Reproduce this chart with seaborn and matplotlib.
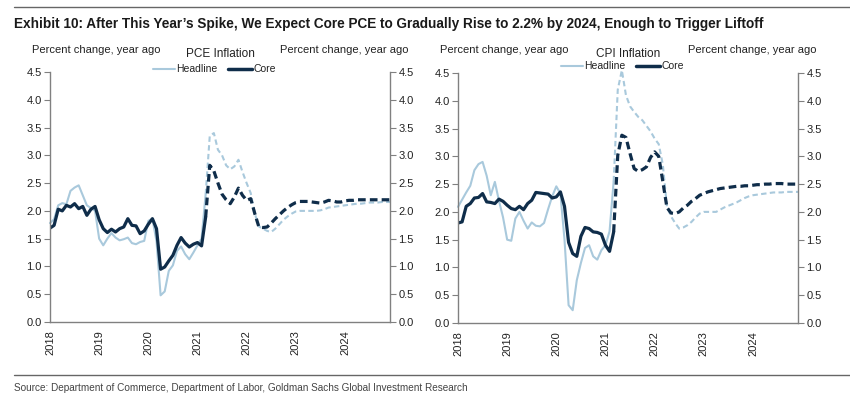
import numpy as np
import pandas as pd
import matplotlib
matplotlib.use("Agg")
import matplotlib.pyplot as plt
import matplotlib.font_manager as fm
import seaborn as sns

# ---------------- data (monthly, Jan 2018 .. Dec 2024) ----------------
years = ["2018", "2019", "2020", "2021", "2022", "2023", "2024"]
n_actual = 39  # Jan 2018 .. Mar 2021 are actual, the rest forecast

pce_core = [
    1.69, 1.74, 2.03, 2.00, 2.10, 2.07, 2.13, 2.04, 2.08, 1.92, 2.03, 2.08,
    1.84, 1.68, 1.61, 1.67, 1.62, 1.68, 1.71, 1.86, 1.74, 1.73, 1.59, 1.64,
    1.76, 1.86, 1.68, 0.95, 0.99, 1.10, 1.20, 1.38, 1.52, 1.42, 1.35, 1.40,
    1.43, 1.37, 1.89, 2.82, 2.72, 2.50, 2.30, 2.20, 2.13, 2.25, 2.41, 2.28,
    2.19, 2.22, 1.95, 1.71, 1.70, 1.71, 1.78, 1.86, 1.93, 2.00, 2.06, 2.11,
    2.15, 2.17, 2.17, 2.17, 2.16, 2.15, 2.14, 2.16, 2.19, 2.18, 2.16, 2.16,
    2.18, 2.19, 2.19, 2.20, 2.20, 2.20, 2.20, 2.20, 2.20, 2.20, 2.20, 2.20,
]
pce_headline = [
    1.78, 1.85, 2.10, 2.14, 2.12, 2.36, 2.42, 2.46, 2.28, 2.10, 2.05, 2.00,
    1.50, 1.38, 1.50, 1.60, 1.52, 1.47, 1.49, 1.52, 1.42, 1.40, 1.44, 1.46,
    1.82, 1.86, 1.45, 0.48, 0.55, 0.92, 1.02, 1.28, 1.36, 1.22, 1.13, 1.25,
    1.38, 1.50, 2.30, 3.35, 3.40, 3.10, 3.00, 2.82, 2.75, 2.80, 2.92, 2.70,
    2.50, 2.32, 1.95, 1.72, 1.68, 1.64, 1.62, 1.68, 1.76, 1.84, 1.90, 1.95,
    1.99, 2.00, 2.00, 2.00, 2.00, 2.00, 2.01, 2.03, 2.06, 2.07, 2.08, 2.09,
    2.10, 2.11, 2.12, 2.13, 2.13, 2.14, 2.15, 2.15, 2.15, 2.16, 2.16, 2.16,
]
cpi_core = [
    1.80, 1.82, 2.10, 2.15, 2.25, 2.26, 2.33, 2.18, 2.17, 2.15, 2.23, 2.19,
    2.12, 2.06, 2.04, 2.10, 2.04, 2.15, 2.21, 2.35, 2.34, 2.33, 2.32, 2.25,
    2.27, 2.36, 2.10, 1.45, 1.25, 1.20, 1.56, 1.72, 1.70, 1.64, 1.63, 1.60,
    1.40, 1.29, 1.64, 3.02, 3.38, 3.34, 3.05, 2.78, 2.73, 2.76, 2.81, 2.98,
    3.08, 3.00, 2.55, 2.08, 1.98, 1.97, 2.00, 2.07, 2.12, 2.19, 2.24, 2.30,
    2.33, 2.36, 2.38, 2.40, 2.42, 2.43, 2.44, 2.45, 2.46, 2.46, 2.47, 2.47,
    2.48, 2.49, 2.49, 2.50, 2.50, 2.51, 2.51, 2.51, 2.50, 2.50, 2.50, 2.50,
]
cpi_headline = [
    2.09, 2.22, 2.35, 2.47, 2.75, 2.86, 2.90, 2.65, 2.30, 2.54, 2.20, 1.90,
    1.50, 1.48, 1.88, 2.00, 1.84, 1.70, 1.81, 1.75, 1.74, 1.80, 2.05, 2.28,
    2.46, 2.33, 1.50, 0.32, 0.23, 0.77, 1.08, 1.35, 1.40, 1.20, 1.14, 1.31,
    1.40, 1.65, 2.55, 4.20, 4.55, 4.10, 3.90, 3.80, 3.71, 3.65, 3.55, 3.45,
    3.32, 3.22, 2.85, 2.10, 1.92, 1.80, 1.70, 1.72, 1.76, 1.82, 1.90, 1.97,
    2.00, 2.00, 2.00, 2.00, 2.04, 2.08, 2.11, 2.14, 2.17, 2.21, 2.25, 2.28,
    2.30, 2.31, 2.32, 2.33, 2.34, 2.35, 2.35, 2.35, 2.36, 2.36, 2.36, 2.36,
]

panel_titles = ["PCE Inflation", "CPI Inflation"]
axis_label = "Percent change, year ago"
title = ("Exhibit 10: After This Year\u2019s Spike, We Expect Core PCE to Gradually "
         "Rise to 2.2% by 2024, Enough to Trigger Liftoff")
source = ("Source: Department of Commerce, Department of Labor, Goldman Sachs "
          "Global Investment Research")

# ---------------- style ----------------
sns.set_style("white")
plt.rcParams["font.family"] = ["Liberation Sans", "DejaVu Sans"]

_fonts = fm.fontManager.ttflist
if any(f.name == "Liberation Sans Narrow" for f in _fonts):
    narrow_kw = dict(family=["Liberation Sans Narrow", "DejaVu Sans"])
    title_w, src_w = 690, 425
else:
    narrow_kw = dict(family=["Liberation Sans", "DejaVu Sans"])
    title_w, src_w = 755, 455

CORE = "#0f2d4a"
HEAD = "#a9c9dc"
SPINE = "#808080"
TXT = "#222222"

W, H = 850, 398
fig = plt.figure(figsize=(W / 100, H / 100), dpi=100)

def px_axes(x0, y0, x1, y1):
    return fig.add_axes([x0 / W, 1 - y1 / H, (x1 - x0) / W, (y1 - y0) / H])

axL = px_axes(50, 72, 390, 322)
axR = px_axes(458, 73, 798, 323)

months = np.arange(len(pce_core))

def draw(ax, head, core, ptitle, cx, ly):
    df = pd.DataFrame({"m": months, "head": head, "core": core})
    act = df.iloc[:n_actual]
    fc = df.iloc[n_actual - 1:]
    sns.lineplot(data=act, x="m", y="head", ax=ax, color=HEAD, lw=1.5,
                 clip_on=False)
    sns.lineplot(data=fc, x="m", y="head", ax=ax, color=HEAD, lw=1.5,
                 clip_on=False).lines[-1].set_dashes((2.6, 1.6))
    sns.lineplot(data=act, x="m", y="core", ax=ax, color=CORE, lw=2.3)
    sns.lineplot(data=fc, x="m", y="core", ax=ax, color=CORE, lw=2.3
                 ).lines[-1].set_dashes((2.4, 1.3))
    ax.set_xlim(0, 83)
    ax.set_ylim(0, 4.5)
    ax.set_yticks(np.arange(0, 4.51, 0.5))
    ax.set_yticklabels([f"{v:.1f}" for v in np.arange(0, 4.51, 0.5)])
    ax.set_xticks(np.arange(0, 84, 12))
    ax.set_xticklabels(years, rotation=90)
    ax.set_xlabel("")
    ax.set_ylabel("")
    for s in ["left", "right", "bottom"]:
        ax.spines[s].set_visible(True)
        ax.spines[s].set_color(SPINE)
        ax.spines[s].set_linewidth(1.0)
    ax.spines["top"].set_visible(False)
    ax.tick_params(axis="y", which="both", left=True, right=True,
                   labelleft=True, labelright=True, direction="out",
                   length=4, color=SPINE, labelsize=8, labelcolor=TXT, pad=2)
    ax.tick_params(axis="x", direction="out", length=4, color=SPINE,
                   labelsize=8, labelcolor=TXT, pad=2)
    ax.grid(False)
    fig.text(cx / W, 1 - 54 / H, ptitle, ha="center", va="center",
             fontsize=8.5, color=TXT)
    lx = cx - 67
    fig.add_artist(plt.Line2D([lx / W, (lx + 22) / W],
                              [1 - ly / H, 1 - ly / H], color=HEAD, lw=1.5))
    fig.text((lx + 23) / W, 1 - ly / H, "Headline", ha="left", va="center",
             fontsize=7.5, color=TXT)
    fig.add_artist(plt.Line2D([(lx + 75) / W, (lx + 99) / W],
                              [1 - ly / H, 1 - ly / H], color=CORE, lw=2.5))
    fig.text((lx + 100) / W, 1 - ly / H, "Core", ha="left", va="center",
             fontsize=7.5, color=TXT)

draw(axL, pce_headline, pce_core, panel_titles[0], 220, 69)
draw(axR, cpi_headline, cpi_core, panel_titles[1], 628, 66)

for x, ha in [(32, "left"), (409, "right"), (440, "left"), (816, "right")]:
    fig.text(x / W, 1 - 50 / H, axis_label, ha=ha, va="center",
             fontsize=8, color=TXT)

fig.add_artist(plt.Line2D([14 / W, 1], [1 - 7 / H, 1 - 7 / H],
                          color="#666666", lw=1.0))
t_title = fig.text(14 / W, 1 - 24 / H, title, ha="left", va="center",
                   fontsize=10.5, fontweight="bold", color="#1a1a1a",
                   **narrow_kw)
fig.add_artist(plt.Line2D([14 / W, 1], [1 - 375 / H, 1 - 375 / H],
                          color="#666666", lw=1.0))
t_src = fig.text(14 / W, 1 - 388 / H, source, ha="left", va="center",
                 fontsize=7.5, color="#444444", **narrow_kw)

renderer = fig.canvas.get_renderer()
for t, target in [(t_title, title_w), (t_src, src_w)]:
    w = t.get_window_extent(renderer).width
    t.set_fontsize(t.get_fontsize() * target / w)

fig.savefig("out.png", dpi=100)
